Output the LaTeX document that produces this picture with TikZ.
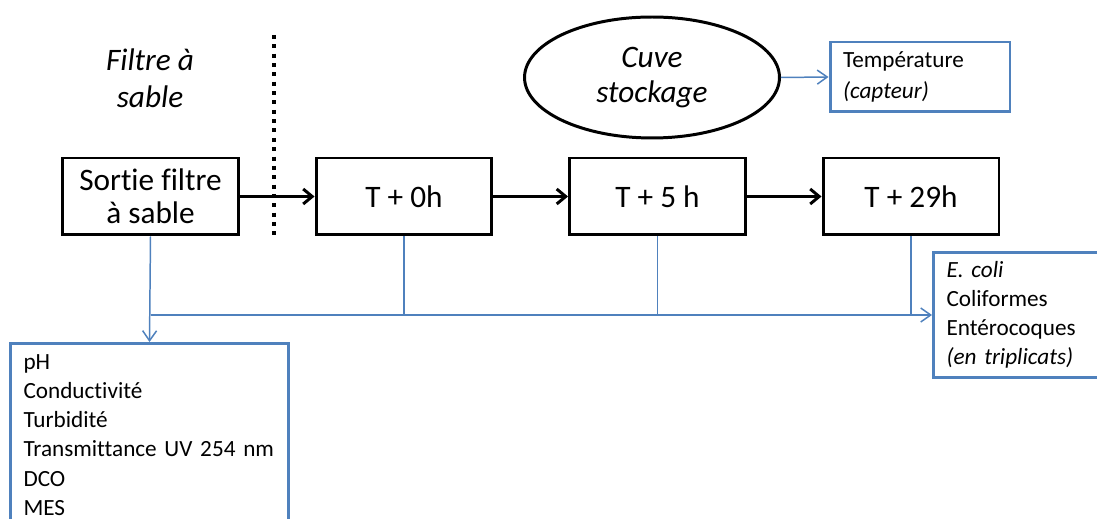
\documentclass[tikz,border=0pt]{standalone}
\usepackage{xcolor}
\usepackage{fontspec}
\setmainfont[Ligatures=NoCommon]{Carlito}
\usepackage{tikz}
\usetikzlibrary{arrows.meta,shapes.geometric}
\definecolor{bleumesure}{RGB}{79,129,189}
\tikzset{
  etape/.style={draw, line width=1.7pt, minimum width=3.52cm, minimum height=1.54cm, align=center, font=\fontsize{17.8}{19}\selectfont},
  mesure/.style={draw=bleumesure, line width=1.7pt, align=left, inner xsep=0.26cm, font=\fontsize{13.2}{16.6}\selectfont},
  flux/.style={line width=1.7pt, -{Straight Barb[length=1.8mm,width=3mm]}},
  lien/.style={draw=bleumesure, line width=0.85pt},
  lienfleche/.style={lien, -{Straight Barb[length=2mm,width=2.8mm]}},
  titre/.style={align=center, font=\fontsize{17.8}{21}\selectfont\itshape}
}

\begin{document}
\begin{tikzpicture}[x=0.02cm, y=-0.02cm]
\useasboundingbox (0,0) rectangle (1097,519);
\clip (0,0) rectangle (1097,519);

\node[titre] (filtre) at (150,78) {Filtre à\\sable};
\draw[line width=0.08cm, dash pattern=on 0.08cm off 0.107cm] (274,35) -- (274,237);

\node[etape] (sortie) at (150.5,196.5) {Sortie filtre\\à sable};
\node[etape] (t0) at (404,196.5) {T + 0h};
\node[etape] (t5) at (657.5,196.5) {T + 5 h};
\node[etape] (t29) at (911,196.5) {T + 29h};

\draw[flux] (sortie) -- (t0);
\draw[flux] (t0) -- (t5);
\draw[flux] (t5) -- (t29);

\node[ellipse, draw, line width=1.7pt, minimum width=5.1cm, minimum height=2.42cm, align=center, font=\fontsize{17.8}{20}\selectfont\itshape] (cuve) at (652,77.5) {Cuve\\stockage};
\node[mesure, text width=3.08cm, minimum height=1.4cm, font=\fontsize{13.2}{17.5}\selectfont] (temp) at (920,77) {Température\\\textit{(capteur)}};
\draw[lienfleche] (cuve.east) -- (temp.west);

\node[mesure, anchor=north, text width=5.04cm, inner ysep=0.22cm] (physchim) at (149.5,342) {pH\\Conductivité\\Turbidité\\Transmittance UV 254 nm\\DCO\\MES\\[0.3cm]};
\node[mesure, anchor=west, text width=3.08cm, minimum height=2.52cm] (bacterio) at (932,315) {\textit{E. coli}\\Coliformes\\Entérocoques\\\textit{(en triplicats)}};

\draw[lienfleche] (sortie.south) -- (physchim.north);
\draw[lienfleche] (sortie.south |- bacterio.west) -- (bacterio.west);
\foreach \t in {t0,t5,t29}
  \draw[lien] (\t.south) -- (\t.south |- bacterio.west);
\end{tikzpicture}
\end{document}
